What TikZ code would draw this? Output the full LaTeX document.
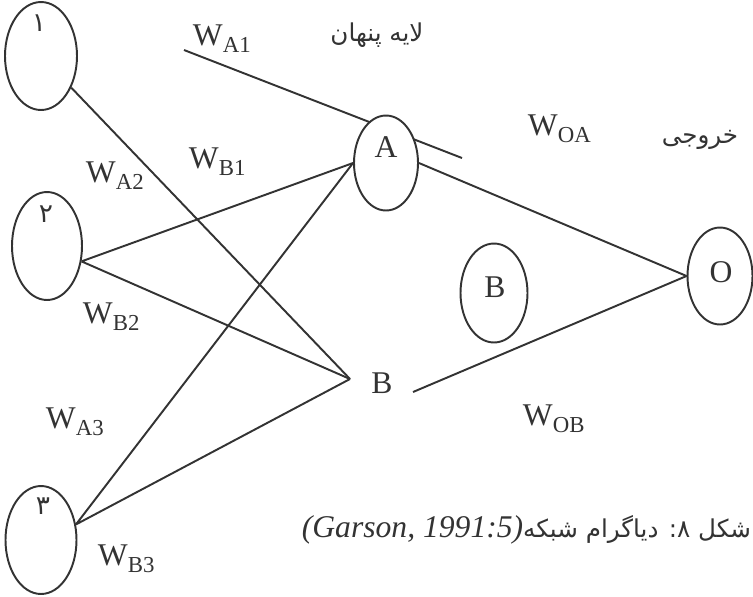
\documentclass[tikz,border=0pt]{standalone}
\usepackage{fontspec}
\setmainfont{Liberation Serif}
\newfontfamily\persfont[Script=Arabic]{DejaVu Sans}
\TeXXeTstate=1
\usetikzlibrary{shapes.geometric}
\definecolor{ink}{HTML}{333333}
\newcommand{\wsub}[1]{W\raisebox{-0.5ex}{\fontsize{13}{14}\selectfont #1}}
\newcommand{\fa}[1]{{\persfont\beginR #1\endR}}

\begin{document}
\begin{tikzpicture}[x=0.02cm, y=-0.02cm, line width=1.1pt, color=ink,
    every node/.style={font=\fontsize{18}{20}\selectfont},
    inp/.style={ellipse, draw, fill=white, inner sep=0pt, minimum width=1.42cm, minimum height=2.16cm},
    hid/.style={ellipse, draw, fill=white, inner sep=0pt, minimum width=1.3cm, minimum height=1.94cm},
    wt/.style={anchor=base west, inner sep=0pt},
    fatxt/.style={font=\persfont\fontsize{14}{16}\selectfont},
    digit/.style={font=\persfont\fontsize{15}{16}\selectfont, inner sep=0pt}]
  \useasboundingbox (0,0) rectangle (753,596);
  \coordinate (a1s) at (184,50);
  \coordinate (a1e) at (462,158);
  \coordinate (Bpt) at (350,379);
  \coordinate (Bout) at (413,392);
  % weight line running behind A
  \draw (a1s) -- (a1e);
  % input layer
  \node[inp, minimum width=1.44cm] (n1) at (41,56) {};
  \node[inp, minimum width=1.4cm] (n2) at (47,246) {};
  \node[inp] (n3) at (41,540) {};
  \node[digit] (d1) at (39,23) {\fa{۱}};
  \node[digit] (d2) at (46,214) {\fa{۲}};
  \node[digit] (d3) at (43,506) {\fa{۳}};
  % hidden and output
  \node[hid, minimum width=1.28cm, minimum height=1.9cm] (A) at (386,163) {};
  \node[hid, minimum width=1.34cm, minimum height=1.98cm] (Bc) at (494,293) {};
  \node[hid] (O) at (720,276) {};
  \node[anchor=base] (Alab) at (386,157) {A};
  \node[anchor=base] (Bclab) at (495,297) {B};
  \node[anchor=base] (Olab) at (721,282) {O};
  \node[anchor=base] (Blab) at (382,393) {B};
  % connections
  \draw (n1) -- (Bpt);
  \draw (n2.-24) -- (A.west) (n2.-24) -- (Bpt);
  \draw (n3.24) -- (A.west) (n3.24) -- (Bpt);
  \draw (A.east) -- (O.west);
  \draw (Bout) -- (O.west);
  % weights
  \node[wt] (wa1) at (192,45) {\wsub{A1}};
  \node[wt] (wb1) at (188,168) {\wsub{B1}};
  \node[wt] (wa2) at (85,182) {\wsub{A2}};
  \node[wt] (wb2) at (82,323) {\wsub{B2}};
  \node[wt] (wa3) at (45,428) {\wsub{A3}};
  \node[wt] (wb3) at (97,565) {\wsub{B3}};
  \node[wt] (woa) at (527,135) {\wsub{OA}};
  \node[wt] (wob) at (522,425) {\wsub{OB}};
  % layer names and caption
  \node[fatxt] (hidname) at (377,35) {\fa{لایه پنهان}};
  \node[fatxt] (outname) at (700,140) {\fa{خروجی}};
  \node[anchor=base east, inner sep=0pt, font=\persfont\fontsize{14}{16}\selectfont] (cap) at (752,537)
    {\fa{شکل ۸: دیاگرام شبکه{\rmfamily\itshape\fontsize{18}{20}\selectfont\beginL(Garson, 1991:5)\endL}}};
\end{tikzpicture}
\end{document}
